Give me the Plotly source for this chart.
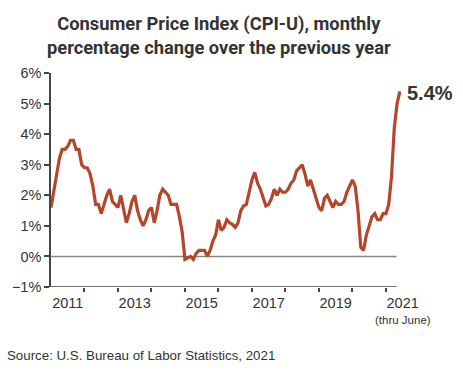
import plotly.graph_objects as go

# Monthly CPI-U, % change from a year earlier, Jan 2011 - Jun 2021
start_year = 2011
cpi_2011 = [1.6, 2.1, 2.7, 3.2, 3.5, 3.5, 3.6, 3.8, 3.8, 3.5, 3.5, 3.0]
cpi_2012 = [2.9, 2.9, 2.7, 2.3, 1.7, 1.7, 1.4, 1.7, 2.0, 2.2, 1.8, 1.7]
cpi_2013 = [1.6, 2.0, 1.5, 1.1, 1.4, 1.8, 2.0, 1.5, 1.2, 1.0, 1.2, 1.5]
cpi_2014 = [1.6, 1.1, 1.5, 2.0, 2.2, 2.1, 2.0, 1.7, 1.7, 1.7, 1.3, 0.8]
cpi_2015 = [-0.1, -0.05, 0.0, -0.1, 0.1, 0.2, 0.2, 0.2, 0.0, 0.2, 0.5, 0.7]
cpi_2016 = [1.2, 0.85, 0.95, 1.2, 1.1, 1.05, 0.95, 1.1, 1.5, 1.65, 1.7, 2.1]
cpi_2017 = [2.5, 2.75, 2.4, 2.2, 1.9, 1.65, 1.7, 1.9, 2.2, 2.0, 2.2, 2.1]
cpi_2018 = [2.1, 2.2, 2.4, 2.5, 2.8, 2.9, 3.0, 2.7, 2.3, 2.5, 2.2, 1.9]
cpi_2019 = [1.6, 1.5, 1.9, 2.0, 1.8, 1.6, 1.8, 1.7, 1.7, 1.8, 2.1, 2.3]
cpi_2020 = [2.5, 2.3, 1.5, 0.3, 0.2, 0.7, 1.05, 1.3, 1.4, 1.2, 1.2, 1.4]
cpi_2021 = [1.4, 1.7, 2.6, 4.2, 5.0, 5.4]

values = (cpi_2011 + cpi_2012 + cpi_2013 + cpi_2014 + cpi_2015 + cpi_2016
          + cpi_2017 + cpi_2018 + cpi_2019 + cpi_2020 + cpi_2021)
x_months = [start_year + i / 12 for i in range(len(values))]

year_labels = ["2011", "2013", "2015", "2017", "2019", "2021"]
year_label_pos = [int(y) + 0.5 for y in year_labels]
year_boundaries = list(range(2012, 2022))
y_ticks = [-1, 0, 1, 2, 3, 4, 5, 6]
y_tick_text = ["\u22121%", "0%", "1%", "2%", "3%", "4%", "5%", "6%"]

title_text = "Consumer Price Index (CPI-U), monthly<br>percentage change over the previous year"
last_label = "5.4%"
source_text = "Source: U.S. Bureau of Labor Statistics, 2021"

LINE_COLOR = "#B4462A"
TEXT = "#333333"
AXIS = "#444444"
FONT = "Liberation Sans, Arial, sans-serif"
TITLE_FONT = "Liberation Sans Narrow, Roboto, sans-serif"

fig = go.Figure()
fig.add_trace(go.Scatter(
    x=x_months, y=values, mode="lines",
    line=dict(color=LINE_COLOR, width=3.2),
    hoverinfo="skip", showlegend=False,
))

x_end = 2021.32
fig.add_shape(type="line", xref="x", yref="y", x0=start_year, x1=x_end, y0=0, y1=0,
              line=dict(color="#888888", width=1.5), layer="below")
fig.add_shape(type="line", xref="x", yref="y", x0=start_year, x1=x_end, y0=-1, y1=-1,
              line=dict(color=AXIS, width=1.5), layer="above")

fig.add_annotation(x=0.473, y=1.175, xref="paper", yref="paper",
                   text=f"<b>{title_text}</b>", showarrow=False,
                   xanchor="center", yanchor="middle",
                   font=dict(family=TITLE_FONT, size=18.3, color=TEXT))
fig.add_annotation(x=x_months[-1], y=values[-1], xref="x", yref="y",
                   text=f"<b>{last_label}</b>", showarrow=False,
                   xanchor="left", yanchor="middle", xshift=5, yshift=-2,
                   font=dict(family=FONT, size=20, color=TEXT))
fig.add_annotation(x=2021.5, y=-0.154, xref="x", yref="paper",
                   text="(thru June)", showarrow=False,
                   xanchor="center", yanchor="middle",
                   font=dict(family=FONT, size=11.5, color=TEXT))
fig.add_annotation(x=-0.129, y=-0.322, xref="paper", yref="paper",
                   text=source_text, showarrow=False,
                   xanchor="left", yanchor="middle",
                   font=dict(family=FONT, size=13.3, color=TEXT))

fig.update_layout(
    width=463, height=371,
    margin=dict(l=49, r=57, t=73, b=84),
    paper_bgcolor="white", plot_bgcolor="white",
    xaxis=dict(range=[start_year, 2021.6], tickvals=year_label_pos, ticktext=year_labels,
               ticks="", showline=False, showgrid=False, zeroline=False,
               ticklabelstandoff=5,
               tickfont=dict(family=FONT, size=14.5, color=TEXT),
               minor=dict(tickvals=year_boundaries, ticks="outside", ticklen=4,
                          tickcolor=AXIS, tickwidth=1.5, showgrid=False)),
    yaxis=dict(range=[-1, 6], tickvals=y_ticks, ticktext=y_tick_text,
               ticks="outside", ticklen=5, tickcolor=AXIS, tickwidth=1.5,
               showline=True, linecolor=AXIS, linewidth=1.5,
               showgrid=False, zeroline=False,
               tickfont=dict(family=FONT, size=14.5, color=TEXT)),
)

fig.write_html("out.html", config={"displayModeBar": False},
               post_script="document.body.style.margin='0';")
